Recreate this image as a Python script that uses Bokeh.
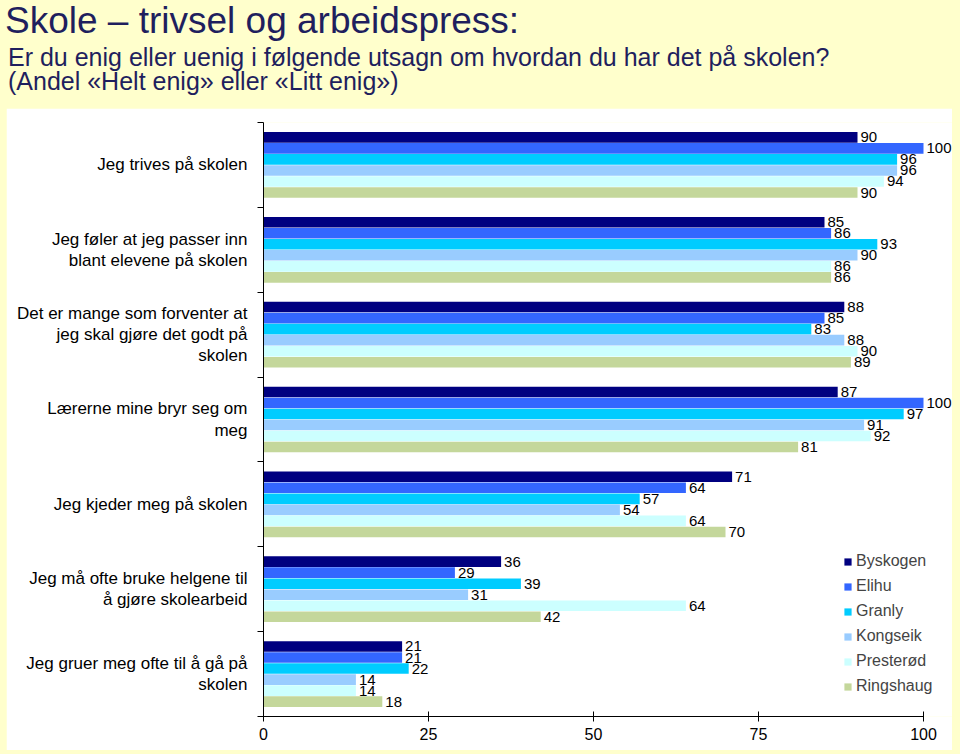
import numpy as np
from bokeh.plotting import figure
from bokeh.models import (Range1d, FixedTicker, LinearAxis, Div, ColumnDataSource,
                          Legend, LegendItem, LabelSet)
from bokeh.layouts import column
from bokeh.embed import file_html
from bokeh.resources import INLINE
from bokeh.core.properties import value

title_text = "Skole – trivsel og arbeidspress:"
subtitle_1 = "Er du enig eller uenig i følgende utsagn om hvordan du har det på skolen?"
subtitle_2 = "(Andel «Helt enig» eller «Litt enig»)"

categories = [
    "Jeg trives på skolen",
    "Jeg føler at jeg passer inn\nblant elevene på skolen",
    "Det er mange som forventer at\njeg skal gjøre det godt på\nskolen",
    "Lærerne mine bryr seg om\nmeg",
    "Jeg kjeder meg på skolen",
    "Jeg må ofte bruke helgene til\nå gjøre skolearbeid",
    "Jeg gruer meg ofte til å gå på\nskolen",
]
series_names = ["Byskogen", "Elihu", "Granly", "Kongseik", "Presterød", "Ringshaug"]
colors = ["#000080", "#3366FF", "#00CCFF", "#99CCFF", "#CCFFFF", "#C4D79B"]

byskogen = [90, 85, 88, 87, 71, 36, 21]
elihu = [100, 86, 85, 100, 64, 29, 21]
granly = [96, 93, 83, 97, 57, 39, 22]
kongseik = [96, 90, 88, 91, 54, 31, 14]
presterod = [94, 86, 90, 92, 64, 64, 14]
ringshaug = [90, 86, 89, 81, 70, 42, 18]
series_values = [byskogen, elihu, granly, kongseik, presterod, ringshaug]

x_ticks = [0, 25, 50, 75, 100]

FONT = "Liberation Sans"
n_cat = len(categories)
n_ser = len(series_names)
bar_h = 0.13
pad = (1 - n_ser * bar_h) / 2

# frame: 660 px for 0..100, extended to the right so labels/legend are not clipped
FIG_W = 946
BORDER_L = 257
x_end = (FIG_W - BORDER_L) / 6.6

p = figure(width=FIG_W, height=642, x_range=Range1d(0, x_end), y_range=Range1d(n_cat, 0),
           output_backend="svg", toolbar_location=None,
           min_border_left=BORDER_L, min_border_right=0, min_border_top=14, min_border_bottom=34,
           background_fill_color="white", border_fill_color="white",
           margin=(0, 0, 0, 6))
p.outline_line_color = None
p.xgrid.visible = False
p.ygrid.visible = False

# x axis
xa = p.xaxis[0]
xa.ticker = FixedTicker(ticks=x_ticks)
xa.bounds = (0, 100)
xa.minor_tick_line_color = None
xa.major_tick_in = 5
xa.major_tick_out = 5
xa.major_label_text_font = FONT
xa.major_label_text_font_size = "16px"
xa.major_label_text_color = "black"
xa.axis_line_color = "black"
xa.major_tick_line_color = "black"
xa.major_label_standoff = 6

# y axis: boundary ticks
ya = p.yaxis[0]
ya.ticker = FixedTicker(ticks=list(range(n_cat + 1)))
ya.major_label_overrides = {i: "" for i in range(n_cat + 1)}
ya.minor_tick_line_color = None
ya.major_tick_in = 0
ya.major_tick_out = 6
ya.major_label_standoff = 0
ya.axis_line_color = "black"
ya.major_tick_line_color = "black"

# y axis: category labels at centers
centers = [i + 0.5 for i in range(n_cat)]
yl = LinearAxis(ticker=FixedTicker(ticks=centers),
                major_label_overrides={c: lab for c, lab in zip(centers, categories)})
yl.axis_line_color = None
yl.major_tick_line_color = None
yl.minor_tick_line_color = None
yl.major_label_text_font = FONT
yl.major_label_text_font_size = "17px"
yl.major_label_text_color = "black"
yl.major_label_text_line_height = 1.12
yl.major_label_standoff = 4
p.add_layout(yl, "left")

items = []
for j, (name, vals, col) in enumerate(zip(series_names, series_values, colors)):
    ys = [i + pad + (j + 0.5) * bar_h for i in range(n_cat)]
    src = ColumnDataSource(dict(y=ys, v=vals, lbl=[str(v) for v in vals]))
    r = p.hbar(y="y", left=0, right="v", height=bar_h * 0.96, source=src,
               fill_color=col, line_color=None)
    items.append(LegendItem(label=name, renderers=[r]))
    lab = LabelSet(x="v", y="y", text="lbl", source=src, x_offset=3,
                   text_baseline="middle", text_font=value(FONT),
                   text_font_size="15px", text_color="black")
    p.add_layout(lab)

legend = Legend(items=items, location=(580, 20), background_fill_alpha=0,
                border_line_color=None, label_text_font=FONT,
                label_text_font_size="16px", glyph_width=9, glyph_height=9,
                label_height=20, spacing=5, padding=0, margin=0,
                label_standoff=4)
p.add_layout(legend)

head_html = (
    '<div style="position:relative;width:960px;height:108px;color:#1f1f5e;'
    f"font-family:'{FONT}';white-space:nowrap;\">"
    f'<div style="position:absolute;left:5px;top:0px;font-size:37px;line-height:42px;">{title_text}</div>'
    f'<div style="position:absolute;left:8px;top:45px;font-size:25px;line-height:24px;">{subtitle_1}</div>'
    f'<div style="position:absolute;left:8px;top:69px;font-size:25px;line-height:24px;">{subtitle_2}</div>'
    '</div>'
)
div = Div(text=head_html, width=960, height=108, margin=0,
          styles={"background-color": "#FFFFCC"})

layout = column(div, p, spacing=0)

html = file_html(layout, INLINE, title="Skole – trivsel og arbeidspress")
html = html.replace("<head>", "<head><style>html,body{background:#FFFFCC;}</style>", 1)
open("out.html", "w").write(html)
